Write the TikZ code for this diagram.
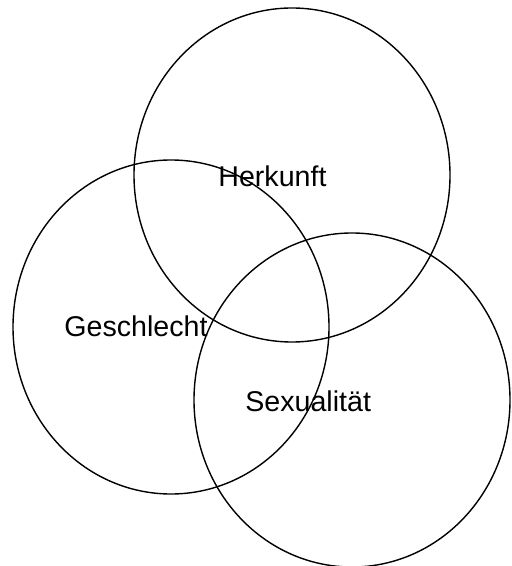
\documentclass[tikz,border=0pt]{standalone}
\usepackage{fontspec}
\setmainfont{Liberation Sans}
\usepackage{xcolor}
\usepackage{tikz}
\usetikzlibrary{shapes.geometric, positioning}
\definecolor{mydark}{RGB}{0,0,0}
\tikzset{
  setring/.style={ellipse, draw=mydark, line width=0.7pt,
    minimum width=158pt, minimum height=167pt, inner sep=0pt},
  setlabel/.style={anchor=base west, inner sep=0pt, text=mydark,
    font=\fontsize{14.3}{17}\selectfont}
}

\begin{document}
\begin{tikzpicture}[x=0.5pt, y=-0.5pt]
  \useasboundingbox (0,0) rectangle (511,566);
  \node[setring] (herk) at (292,175) {};
  \node[setring] (gesch) at (171,327) {};
  \node[setring] (sex) at (352,400) {};
  \node[setlabel] (herkT) at (218,187) {Herkunft};
  \node[setlabel] (geschT) at (64,336) {Geschlecht};
  \node[setlabel] (sexT) at (245,411) {Sexualität};
\end{tikzpicture}
\end{document}
